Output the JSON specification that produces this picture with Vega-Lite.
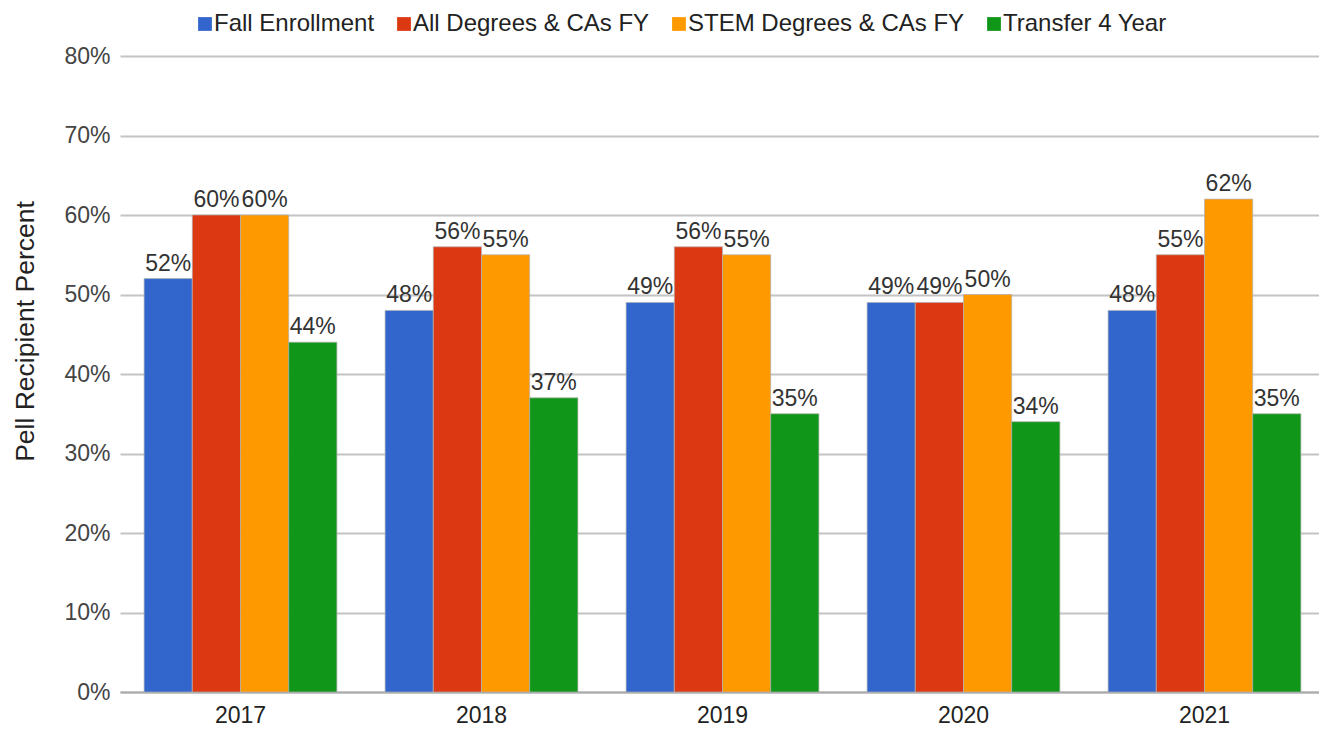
{
  "$schema": "https://vega.github.io/schema/vega-lite/v6.json",
  "width": 1199,
  "height": 636,
  "autosize": "none",
  "padding": {"left": 120, "top": 56, "right": 0, "bottom": 37},
  "background": "white",
  "config": {
    "view": {"stroke": null},
    "font": "Liberation Sans"
  },
  "data": {
    "values": [
      {"year": "2017", "series": "Fall Enrollment", "value": 0.52},
      {"year": "2017", "series": "All Degrees & CAs FY", "value": 0.60},
      {"year": "2017", "series": "STEM Degrees & CAs FY", "value": 0.60},
      {"year": "2017", "series": "Transfer 4 Year", "value": 0.44},
      {"year": "2018", "series": "Fall Enrollment", "value": 0.48},
      {"year": "2018", "series": "All Degrees & CAs FY", "value": 0.56},
      {"year": "2018", "series": "STEM Degrees & CAs FY", "value": 0.55},
      {"year": "2018", "series": "Transfer 4 Year", "value": 0.37},
      {"year": "2019", "series": "Fall Enrollment", "value": 0.49},
      {"year": "2019", "series": "All Degrees & CAs FY", "value": 0.56},
      {"year": "2019", "series": "STEM Degrees & CAs FY", "value": 0.55},
      {"year": "2019", "series": "Transfer 4 Year", "value": 0.35},
      {"year": "2020", "series": "Fall Enrollment", "value": 0.49},
      {"year": "2020", "series": "All Degrees & CAs FY", "value": 0.49},
      {"year": "2020", "series": "STEM Degrees & CAs FY", "value": 0.50},
      {"year": "2020", "series": "Transfer 4 Year", "value": 0.34},
      {"year": "2021", "series": "Fall Enrollment", "value": 0.48},
      {"year": "2021", "series": "All Degrees & CAs FY", "value": 0.55},
      {"year": "2021", "series": "STEM Degrees & CAs FY", "value": 0.62},
      {"year": "2021", "series": "Transfer 4 Year", "value": 0.35}
    ]
  },
  "encoding": {
    "x": {
      "field": "year", "type": "nominal",
      "scale": {"paddingInner": 0.2, "paddingOuter": 0.1, "range": [0, 1205]},
      "axis": {
        "title": null, "labelAngle": 0, "labelFontSize": 23, "labelColor": "#222",
        "labelPadding": 12, "ticks": false, "domain": true, "domainColor": "#aaa", "domainWidth": 2
      }
    },
    "xOffset": {
      "field": "series", "type": "nominal",
      "sort": ["Fall Enrollment", "All Degrees & CAs FY", "STEM Degrees & CAs FY", "Transfer 4 Year"],
      "scale": {"paddingInner": 0, "paddingOuter": 0}
    },
    "y": {
      "field": "value", "type": "quantitative",
      "scale": {"domain": [0, 0.8], "nice": false},
      "axis": {
        "title": "Pell Recipient Percent", "titleFontSize": 26.5, "titleFontWeight": "normal",
        "titleColor": "#222", "titlePadding": 24, "titleY": 275,
        "format": ".0%", "values": [0, 0.1, 0.2, 0.3, 0.4, 0.5, 0.6, 0.7, 0.8],
        "labelFontSize": 23, "labelColor": "#444", "labelPadding": 10,
        "ticks": false, "domain": false,
        "grid": true, "gridColor": "#c4c4c4", "gridWidth": 2
      }
    }
  },
  "layer": [
    {
      "mark": {"type": "bar", "stroke": "#b0b0b0", "strokeWidth": 1, "strokeOpacity": 0.7},
      "encoding": {
        "color": {
          "field": "series", "type": "nominal",
          "scale": {
            "domain": ["Fall Enrollment", "All Degrees & CAs FY", "STEM Degrees & CAs FY", "Transfer 4 Year"],
            "range": ["#3366CC", "#DC3912", "#FF9900", "#109618"]
          },
          "legend": {
            "title": null, "orient": "none", "direction": "horizontal",
            "legendX": 73, "legendY": -44, "padding": 0,
            "symbolType": "square", "symbolSize": 190, "symbolStrokeWidth": 0,
            "labelFontSize": 24, "labelColor": "#222", "labelOffset": -3,
            "columnPadding": 17, "labelLimit": 400
          }
        }
      }
    },
    {
      "mark": {"type": "text", "baseline": "bottom", "align": "center", "dy": -3, "fontSize": 23, "color": "#333"},
      "encoding": {
        "text": {"field": "value", "type": "quantitative", "format": ".0%"}
      }
    }
  ]
}
